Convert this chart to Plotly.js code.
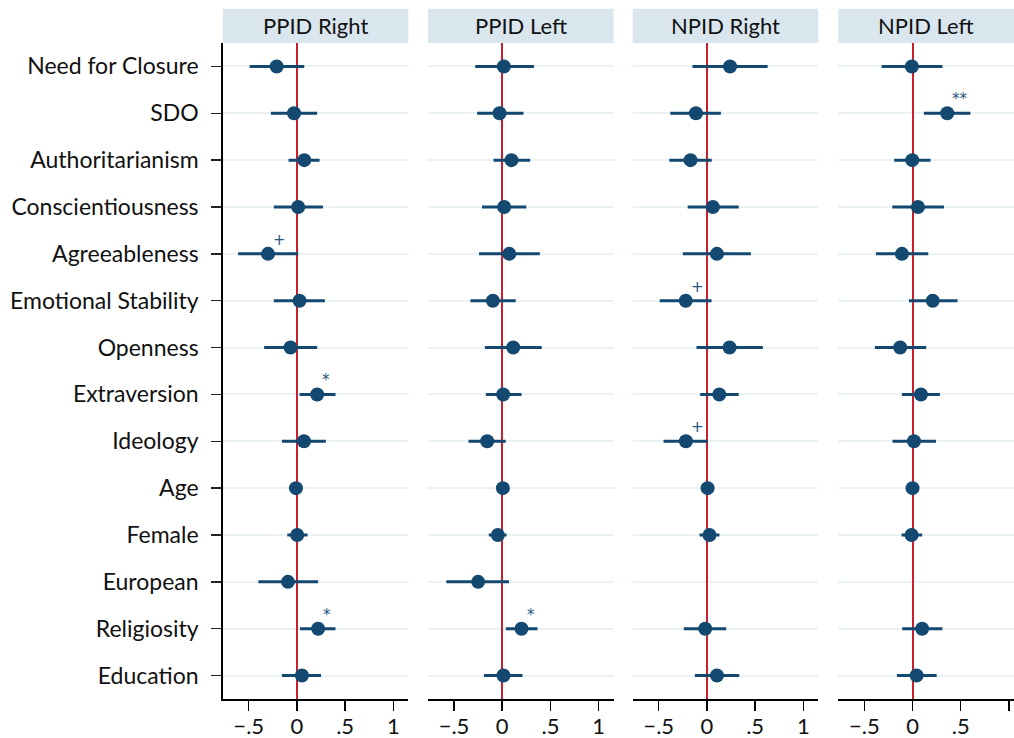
<!DOCTYPE html>
<html>
<head>
<meta charset="utf-8">
<script src="https://cdn.plot.ly/plotly-3.0.1.min.js"></script>
<style>html,body{margin:0;padding:0;background:#fff;}#chart{width:1014px;height:738px;}</style>
</head>
<body>
<div id="chart"></div>
<script>
const categories = ["Need for Closure","SDO","Authoritarianism","Conscientiousness","Agreeableness","Emotional Stability","Openness","Extraversion","Ideology","Age","Female","European","Religiosity","Education"];
const panelTitles = ["PPID Right","PPID Left","NPID Right","NPID Left"];
const xTickVals = [-0.5, 0, 0.5, 1];
const xTickText = ["\u2212.5", "0", ".5", "1"];

const ppidRightEst = [-0.21,-0.03,0.076,0.013,-0.30,0.027,-0.066,0.21,0.073,-0.01,0.003,-0.093,0.22,0.052];
const ppidRightLo  = [-0.49,-0.27,-0.087,-0.24,-0.61,-0.24,-0.34,0.027,-0.156,-0.02,-0.10,-0.40,0.031,-0.156];
const ppidRightHi  = [0.076,0.21,0.235,0.27,0.013,0.29,0.21,0.40,0.30,0.0,0.11,0.22,0.40,0.25];
const ppidRightSig = ["","","","","+","","","*","","","","","*",""];

const ppidLeftEst = [0.017,-0.028,0.096,0.02,0.073,-0.097,0.114,0.01,-0.156,0.007,-0.045,-0.25,0.20,0.013];
const ppidLeftLo  = [-0.28,-0.26,-0.09,-0.21,-0.24,-0.33,-0.18,-0.17,-0.35,-0.003,-0.14,-0.58,0.037,-0.19];
const ppidLeftHi  = [0.33,0.22,0.29,0.25,0.39,0.14,0.41,0.20,0.037,0.017,0.045,0.07,0.366,0.21];
const ppidLeftSig = ["","","","","","","","","","","","","*",""];

const npidRightEst = [0.24,-0.114,-0.17,0.062,0.104,-0.22,0.235,0.128,-0.218,0.007,0.027,null,-0.018,0.104];
const npidRightLo  = [-0.15,-0.38,-0.39,-0.20,-0.25,-0.49,-0.108,-0.07,-0.45,-0.003,-0.077,null,-0.24,-0.125];
const npidRightHi  = [0.63,0.145,0.05,0.33,0.456,0.048,0.58,0.33,0.007,0.017,0.13,null,0.20,0.335];
const npidRightSig = ["","","","","","+","","","+","","","","",""];

const npidLeftEst = [-0.007,0.36,-0.003,0.056,-0.11,0.21,-0.128,0.087,0.015,0.0,-0.01,null,0.10,0.042];
const npidLeftLo  = [-0.32,0.118,-0.19,-0.21,-0.38,-0.037,-0.39,-0.11,-0.207,-0.01,-0.114,null,-0.107,-0.162];
const npidLeftHi  = [0.31,0.60,0.187,0.326,0.163,0.467,0.142,0.284,0.243,0.01,0.10,null,0.31,0.25];
const npidLeftSig = ["","**","","","","","","","","","","","",""];

const panels = [
  {est: ppidRightEst, lo: ppidRightLo, hi: ppidRightHi, sig: ppidRightSig},
  {est: ppidLeftEst, lo: ppidLeftLo, hi: ppidLeftHi, sig: ppidLeftSig},
  {est: npidRightEst, lo: npidRightLo, hi: npidRightHi, sig: npidRightSig},
  {est: npidLeftEst, lo: npidLeftLo, hi: npidLeftHi, sig: npidLeftSig}
];

const W = 1014;
const navy = "#134870";
const red = "#c8202f";
const font = "Lato, 'Open Sans', sans-serif";
const domainsPx = [[222.7, 408.3], [428, 613.6], [632.7, 818.3], [838.3, 1014]];
const rangeLo = -0.77, pxPerUnit = 96.4;

const rows = categories.map((c, i) => i);
const traces = [];
const annotations = [];
const shapes = [];
const layout = {
  width: 1014, height: 738,
  margin: {l: 0, r: 0, t: 42.7, b: 38.7},
  paper_bgcolor: "#fff", plot_bgcolor: "#fff",
  showlegend: false,
  font: {family: font, color: "#111"},
  yaxis: {
    tickmode: "array", tickvals: rows, ticktext: categories,
    range: [13.5, -0.5], anchor: "x",
    showgrid: true, gridcolor: "#eaf2f4", gridwidth: 2,
    zeroline: false,
    showline: true, linecolor: "#000", linewidth: 1.5,
    ticks: "outside", ticklen: 10, tickwidth: 1.5, tickcolor: "#222",
    ticklabelstandoff: 8,
    tickfont: {size: 23, family: font, color: "#111"},
    automargin: false
  }
};

panels.forEach((p, k) => {
  const xa = k === 0 ? "x" : "x" + (k + 1);
  const axName = k === 0 ? "xaxis" : "xaxis" + (k + 1);
  const d = domainsPx[k];
  const hiRange = rangeLo + (d[1] - d[0]) / pxPerUnit;
  layout[axName] = {
    domain: [d[0] / W, d[1] / W],
    range: [rangeLo, hiRange],
    anchor: "y",
    tickmode: "array", tickvals: xTickVals, ticktext: xTickText,
    showgrid: false,
    zeroline: true, zerolinecolor: red, zerolinewidth: 2,
    showline: true, linecolor: "#000", linewidth: 1.5,
    ticks: "outside", ticklen: 10, tickwidth: 1.5, tickcolor: "#000",
    ticklabelstandoff: -3,
    tickfont: {size: 22, family: font, color: "#111"},
    automargin: false, fixedrange: true
  };
  traces.push({
    type: "scatter", mode: "markers",
    x: p.est, y: rows, xaxis: xa, yaxis: "y",
    marker: {color: navy, size: 14},
    error_x: {
      type: "data", symmetric: false,
      array: p.est.map((v, i) => v === null ? null : p.hi[i] - v),
      arrayminus: p.est.map((v, i) => v === null ? null : v - p.lo[i]),
      color: navy, thickness: 3, width: 0
    },
    hoverinfo: "skip"
  });
  shapes.push({
    type: "rect", xref: xa + " domain", yref: "paper",
    x0: 0, x1: 1, y0: 1, y1: 1 + 34.4 / 656.6,
    fillcolor: "#d9e6ee", line: {width: 0}, layer: "below"
  });
  annotations.push({
    xref: xa + " domain", yref: "paper", x: 0.5, y: 1 + 17.6 / 656.6,
    xanchor: "center", yanchor: "middle", showarrow: false,
    text: panelTitles[k], font: {size: 22, family: font, color: "#111"}
  });
  p.sig.forEach((s, i) => {
    if (!s) return;
    annotations.push({
      xref: xa, yref: "y", x: p.est[i], y: i,
      xanchor: "left", yanchor: "middle", xshift: 3, yshift: 14,
      showarrow: false, text: s,
      font: {size: 15, family: "'DejaVu Sans', sans-serif", color: "#26567e"}
    });
  });
});

layout.shapes = shapes;
layout.annotations = annotations;

Plotly.newPlot("chart", traces, layout, {displayModeBar: false, staticPlot: true});
</script>
</body>
</html>
